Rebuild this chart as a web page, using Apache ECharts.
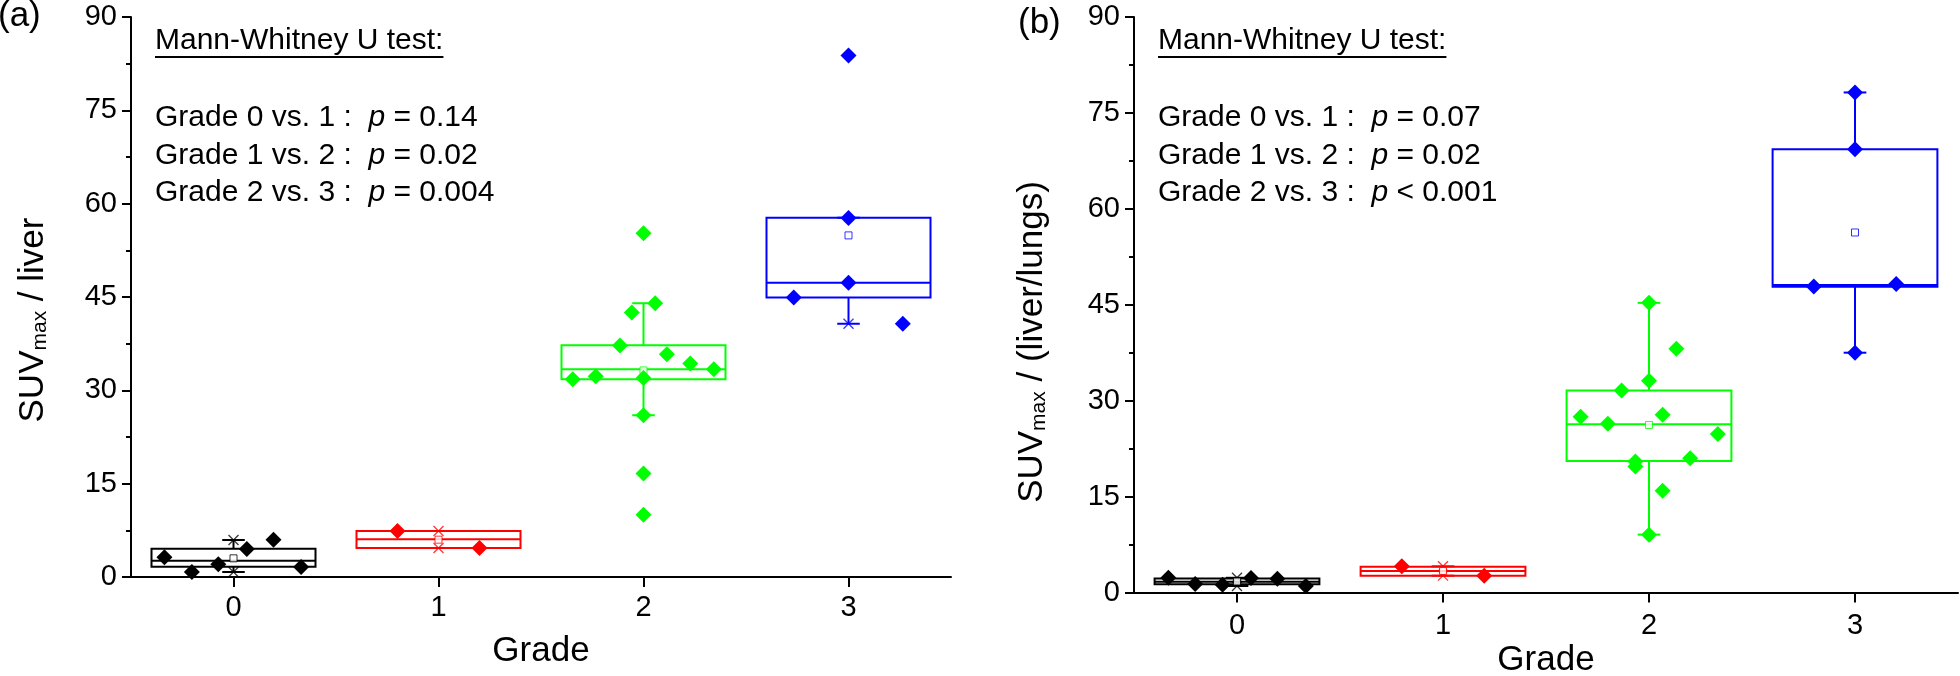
<!DOCTYPE html>
<html><head><meta charset="utf-8">
<script src="https://cdn.jsdelivr.net/npm/echarts@6/dist/echarts.min.js"></script>
<style>html,body{margin:0;padding:0;background:#fff}#c{width:1960px;height:676px}</style>
</head><body><div id="c"></div>
<script>
// ---------- data ----------
const grades = [0, 1, 2, 3];
const gradeLabels = ['0', '1', '2', '3'];
const colors = ['#000000', '#ff0000', '#00ff00', '#0000ff'];
const yMin = 0, yMax = 90, yStep = 15;

// Panel (a): SUVmax / liver
// box stats per grade: [lower whisker, Q1, median, Q3, upper whisker]
const boxA = [
  [0.8, 1.66, 2.6, 4.55, 5.95],
  [4.66, 4.66, 6.05, 7.39, 7.39],
  [26.0, 31.8, 33.4, 37.24, 44.0],
  [40.7, 44.9, 47.3, 57.74, 57.74]
];
const meanA = [3.0, 6.0, 33.2, 54.9];
// visible percentile (x) markers: [grade, value]
const crossA = [[0, 0.8], [0, 5.95], [1, 4.66], [1, 7.39], [3, 40.7]];
// individual points per grade: [horizontal jitter, value]
const ptsA0 = [[-0.337, 3.16], [-0.203, 0.8], [-0.074, 2.04], [0.065, 4.5], [0.195, 6.0], [0.33, 1.6]];
const ptsA1 = [[-0.2, 7.39], [0.2, 4.66]];
const ptsA2 = [[-0.345, 31.8], [-0.233, 32.25], [-0.115, 37.2], [-0.057, 42.5], [0, 55.25], [0.057, 44.0],
               [0.114, 35.8], [0.228, 34.3], [0.343, 33.4], [0, 31.97], [0, 26.0], [0, 16.65], [0, 10.0]];
const ptsA3 = [[0, 83.8], [0, 57.7], [0, 47.3], [-0.267, 44.9], [0.265, 40.7]];

// Panel (b): SUVmax / (liver/lungs)
const boxB = [
  [1.02, 1.28, 1.7, 2.2, 2.3],
  [2.63, 2.63, 3.36, 4.03, 4.1],
  [9.05, 20.56, 26.3, 31.6, 45.3],
  [37.5, 47.8, 48.1, 69.3, 78.2]
];
const meanB = [1.72, 3.36, 26.2, 56.3];
const crossB = [[0, 1.02], [0, 2.3], [1, 2.63], [1, 4.1]];
const ptsB0 = [[-0.333, 2.3], [-0.203, 1.33], [-0.07, 1.22], [0.068, 2.27], [0.196, 2.16], [0.334, 1.02]];
const ptsB1 = [[-0.2, 4.1], [0.2, 2.63]];
const ptsB2 = [[0, 45.3], [0.133, 38.1], [0, 33.1], [-0.133, 31.6], [-0.332, 27.5], [0.066, 27.8], [-0.2, 26.4],
               [0.334, 24.8], [-0.066, 20.5], [-0.066, 19.7], [0.2, 21.0], [0.066, 15.9], [0, 9.05]];
const ptsB3 = [[0, 78.2], [0, 69.3], [-0.2, 47.85], [0.2, 48.25], [0, 37.5]];

const testTitle = 'Mann-Whitney U test:';
const testsA = [['Grade 0 vs. 1 :', '=', '0.14'], ['Grade 1 vs. 2 :', '=', '0.02'], ['Grade 2 vs. 3 :', '=', '0.004']];
const testsB = [['Grade 0 vs. 1 :', '=', '0.07'], ['Grade 1 vs. 2 :', '=', '0.02'], ['Grade 2 vs. 3 :', '<', '0.001']];

const xTitle = 'Grade';
const yTitleA = ['SUV', 'max', ' / liver'];
const yTitleB = ['SUV', 'max', ' / (liver/lungs)'];
const panelLabels = ['(a)', '(b)'];

// ---------- chart ----------
const FONT = '"Liberation Sans", Arial, sans-serif';
const chart = echarts.init(document.getElementById('c'), null, {renderer: 'canvas'});

const BOX_HALF = 0.4, CAP_HALF = 0.055;

function xAxisCfg(gi, margin) {
  return {
    type: 'value', gridIndex: gi, min: -0.5, max: 3.5,
    axisLine: {show: true, onZero: false, lineStyle: {color: '#000', width: 2}},
    axisTick: {show: true, customValues: grades, length: 10, lineStyle: {color: '#000', width: 2}},
    axisLabel: {customValues: grades, formatter: v => gradeLabels[Math.round(v)], fontSize: 29,
                fontFamily: FONT, color: '#000', margin: margin},
    splitLine: {show: false}
  };
}
function yAxisCfg(gi) {
  return {
    type: 'value', gridIndex: gi, min: yMin, max: yMax, interval: yStep,
    axisLine: {show: true, onZero: false, lineStyle: {color: '#000', width: 2}},
    axisTick: {show: true, length: 9, lineStyle: {color: '#000', width: 2}},
    minorTick: {show: true, splitNumber: 2, length: 5, lineStyle: {color: '#000', width: 2}},
    axisLabel: {fontSize: 29, fontFamily: FONT, color: '#000', margin: 14},
    splitLine: {show: false}, minorSplitLine: {show: false}
  };
}

function boxSeries(gi, box) {
  return {
    type: 'custom', xAxisIndex: gi, yAxisIndex: gi, z: 2,
    data: grades.map((g, i) => [g].concat(box[i])),
    encode: {x: 0, y: [1, 2, 3, 4, 5]},
    renderItem: function (params, api) {
      const g = api.value(0);
      const lo = api.value(1), q1 = api.value(2), md = api.value(3), q3 = api.value(4), hi = api.value(5);
      const c = colors[g];
      const pL = api.coord([g - BOX_HALF, q3]);
      const pR = api.coord([g + BOX_HALF, q1]);
      const pM1 = api.coord([g - BOX_HALF, md]), pM2 = api.coord([g + BOX_HALF, md]);
      const pLo = api.coord([g, lo]), pHi = api.coord([g, hi]);
      const pQ1 = api.coord([g, q1]), pQ3 = api.coord([g, q3]);
      const cw = api.size([CAP_HALF, 0])[0];
      const st = {stroke: c, lineWidth: 2, fill: null};
      return {
        type: 'group', children: [
          {type: 'rect', shape: {x: pL[0], y: pL[1], width: pR[0] - pL[0], height: pR[1] - pL[1]}, style: {stroke: c, lineWidth: 2, fill: 'none'}},
          {type: 'line', shape: {x1: pM1[0], y1: pM1[1], x2: pM2[0], y2: pM2[1]}, style: st},
          {type: 'line', shape: {x1: pLo[0], y1: pLo[1], x2: pQ1[0], y2: pQ1[1]}, style: st},
          {type: 'line', shape: {x1: pHi[0], y1: pHi[1], x2: pQ3[0], y2: pQ3[1]}, style: st},
          {type: 'line', shape: {x1: pLo[0] - cw, y1: pLo[1], x2: pLo[0] + cw, y2: pLo[1]}, style: st},
          {type: 'line', shape: {x1: pHi[0] - cw, y1: pHi[1], x2: pHi[0] + cw, y2: pHi[1]}, style: st}
        ]
      };
    }
  };
}

function crossSeries(gi, crosses) {
  return {
    type: 'custom', xAxisIndex: gi, yAxisIndex: gi, z: 3, data: crosses,
    encode: {x: 0, y: 1},
    renderItem: function (params, api) {
      const g = api.value(0);
      const p = api.coord([g, api.value(1)]);
      const c = colors[g], s = 5;
      const st = {stroke: c, lineWidth: 1.2, opacity: 0.8};
      return {type: 'group', children: [
        {type: 'line', shape: {x1: p[0] - s, y1: p[1] - s, x2: p[0] + s, y2: p[1] + s}, style: st},
        {type: 'line', shape: {x1: p[0] - s, y1: p[1] + s, x2: p[0] + s, y2: p[1] - s}, style: st}
      ]};
    }
  };
}

function meanSeries(gi, means) {
  return {
    type: 'scatter', xAxisIndex: gi, yAxisIndex: gi, z: 4, symbol: 'rect', symbolSize: 7,
    data: grades.map((g, i) => ({value: [g, means[i]], itemStyle: {color: '#fff', borderColor: colors[g], borderWidth: 1, opacity: 0.8}})),
    silent: true
  };
}

function pointSeries(gi, g, pts) {
  return {
    type: 'scatter', xAxisIndex: gi, yAxisIndex: gi, z: 5, symbol: 'diamond', symbolSize: 16,
    itemStyle: {color: colors[g], opacity: 1},
    data: pts.map(p => [g + p[0], p[1]])
  };
}

// measure text for underline
const mctx = document.createElement('canvas').getContext('2d');
mctx.font = '30px ' + FONT;
const titleW = mctx.measureText(testTitle).width;

function textBlock(x0, tests) {
  const els = [];
  els.push({type: 'text', x: x0, y: 41, style: {text: testTitle, font: '30px ' + FONT, fill: '#000',
            align: 'left', verticalAlign: 'middle', textAlign: 'left', textVerticalAlign: 'middle'}});
  els.push({type: 'line', shape: {x1: x0, y1: 57, x2: x0 + titleW, y2: 57}, style: {stroke: '#000', lineWidth: 2}});
  tests.forEach((t, i) => {
    els.push({type: 'text', x: x0, y: 118 + i * 37.5, style: {
      text: '{n|' + t[0] + '  }{i|p}{n| ' + t[1] + ' ' + t[2] + '}',
      rich: {n: {fontSize: 30, fontFamily: FONT, fill: '#000', color: '#000'},
             i: {fontSize: 30, fontFamily: FONT, fontStyle: 'italic', fill: '#000', color: '#000'}},
      align: 'left', verticalAlign: 'middle', textAlign: 'left', textVerticalAlign: 'middle'}});
  });
  return els;
}

function yTitle(cx, cy, parts) {
  return {type: 'text', x: cx, y: cy, rotation: Math.PI / 2, style: {
    text: '{a|' + parts[0] + '}{s|' + parts[1] + '}{a|' + parts[2] + '}',
    rich: {a: {fontSize: 35, fontFamily: FONT, color: '#000', fill: '#000', lineHeight: 35},
           s: {fontSize: 21, fontFamily: FONT, color: '#000', fill: '#000', lineHeight: 23, verticalAlign: 'bottom'}},
    align: 'center', verticalAlign: 'middle', textAlign: 'center', textVerticalAlign: 'middle'}};
}
function plainText(x, y, txt, size, align) {
  return {type: 'text', x: x, y: y, style: {text: txt, font: size + 'px ' + FONT, fill: '#000',
          align: align, verticalAlign: 'middle', textAlign: align, textVerticalAlign: 'middle'}};
}

const option = {
  animation: false,
  backgroundColor: '#fff',
  grid: [
    {left: 131, top: 17, width: 820, height: 560},
    {left: 1134, top: 17, width: 824, height: 575.5}
  ],
  xAxis: [xAxisCfg(0, 16), xAxisCfg(1, 19)],
  yAxis: [yAxisCfg(0), yAxisCfg(1)],
  series: [
    boxSeries(0, boxA), crossSeries(0, crossA), meanSeries(0, meanA),
    pointSeries(0, 0, ptsA0), pointSeries(0, 1, ptsA1), pointSeries(0, 2, ptsA2), pointSeries(0, 3, ptsA3),
    boxSeries(1, boxB), crossSeries(1, crossB), meanSeries(1, meanB),
    pointSeries(1, 0, ptsB0), pointSeries(1, 1, ptsB1), pointSeries(1, 2, ptsB2), pointSeries(1, 3, ptsB3)
  ],
  graphic: {elements: [].concat(
    textBlock(155, testsA), textBlock(1158, testsB),
    [yTitle(33, 320, yTitleA), yTitle(1032, 342, yTitleB),
     plainText(541, 651, xTitle, 35, 'center'), plainText(1546, 660, xTitle, 35, 'center'),
     plainText(-2, 16, panelLabels[0], 35, 'left'), plainText(1018, 23, panelLabels[1], 35, 'left')]
  )}
};
chart.setOption(option);
</script></body></html>
